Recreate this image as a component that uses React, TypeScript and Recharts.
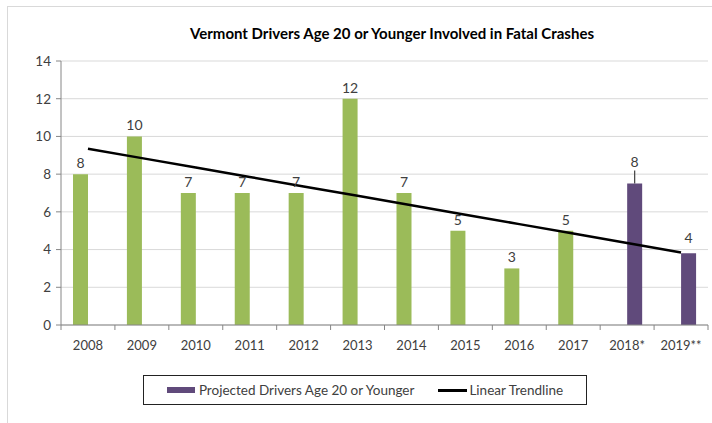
import { ComposedChart, Bar, Line, XAxis, YAxis, CartesianGrid, Legend, LabelList } from 'recharts';

const years = ['2008', '2009', '2010', '2011', '2012', '2013', '2014', '2015', '2016', '2017', '2018*', '2019**'];
const actualDrivers = [8, 10, 7, 7, 7, 12, 7, 5, 3, 5, null, null];
const projectedDrivers = [null, null, null, null, null, null, null, null, null, null, 7.5, 3.8];
const trendline = [9.35, 8.85, 8.35, 7.85, 7.35, 6.85, 6.35, 5.85, 5.35, 4.85, 4.35, 3.85];
const yTicks = [0, 2, 4, 6, 8, 10, 12, 14];

const data = years.map((year, i) => ({
  year,
  actual: actualDrivers[i],
  projected: projectedDrivers[i],
  trend: trendline[i],
}));

const FONT = 'Lato, "Liberation Sans", sans-serif';
const GREEN = '#9bbb59';
const PURPLE = '#604a7b';
const TEXT = '#404040';

// the 2018* label was dragged up in the original, with a leader line
const leaderValue = projectedDrivers[10];

const YearTick = (props: any) => {
  const { x, y, payload, index, width } = props;
  const half = (width || 647) / years.length / 2;
  return (
    <g>
      <line x1={x - half} x2={x - half} y1={y} y2={y + 5} stroke="#868686" />
      {index === years.length - 1 && <line x1={x + half} x2={x + half} y1={y} y2={y + 5} stroke="#868686" />}
      <text x={x} y={y + 25} textAnchor="middle" fill={TEXT} fontSize={13} fontFamily={FONT}>
        {payload.value}
      </text>
    </g>
  );
};

const ProjectedLabel = (props: any) => {
  const { x, y, width, value } = props;
  if (value == null) return null;
  const cx = Number(x) + Number(width) / 2;
  const top = Number(y);
  const lead = Number(value) === leaderValue;
  return (
    <g>
      {lead && <line x1={cx} x2={cx} y1={top - 13} y2={top} stroke="#404040" strokeWidth={1.2} />}
      <text x={cx} y={top - (lead ? 17 : 10)} textAnchor="middle" fill={TEXT} fontSize={14} fontFamily={FONT}>
        {Math.round(Number(value))}
      </text>
    </g>
  );
};

const LegendBox = () => (
  <div
    style={{
      border: '1px solid #222',
      height: 30,
      display: 'flex',
      alignItems: 'center',
      justifyContent: 'center',
      fontFamily: FONT,
      fontSize: 13.5,
      color: TEXT,
      boxSizing: 'border-box',
    }}
  >
    <span style={{ display: 'inline-block', width: 28, height: 6, background: PURPLE, marginRight: 4 }} />
    <span style={{ marginRight: 24 }}>Projected Drivers Age 20 or Younger</span>
    <span style={{ display: 'inline-block', width: 29, height: 3, background: '#000', marginRight: 2 }} />
    <span>Linear Trendline</span>
  </div>
);

export default function App() {
  return (
    <div style={{ position: 'absolute', left: 0, top: 0, width: 712, height: 423, background: '#fff' }}>
      <div
        style={{
          position: 'absolute',
          left: 7,
          top: 6,
          width: 705,
          height: 417,
          borderTop: '1px solid #d9d9d9',
          borderLeft: '1px solid #d9d9d9',
        }}
      />
      <div
        style={{
          position: 'absolute',
          left: 0,
          width: 784,
          top: 24,
          textAlign: 'center',
          fontFamily: FONT,
          fontWeight: 'bold',
          fontSize: 15,
          color: '#000',
        }}
      >
        Vermont Drivers Age 20 or Younger Involved in Fatal Crashes
      </div>
      <ComposedChart
        width={712}
        height={423}
        data={data}
        margin={{ top: 61, right: 4, left: 0, bottom: 38 }}
        barGap={0}
        style={{ position: 'absolute', left: 0, top: 0 }}
      >
        <CartesianGrid vertical={false} stroke="#d9d9d9" />
        <XAxis
          dataKey="year"
          axisLine={{ stroke: '#868686' }}
          tickLine={false}
          tickSize={0}
          tickMargin={0}
          interval={0}
          height={30}
          tick={<YearTick />}
        />
        <YAxis
          domain={[0, 14]}
          ticks={yTicks}
          width={61}
          axisLine={{ stroke: '#868686' }}
          tickLine={{ stroke: '#868686' }}
          tickSize={5}
          tickMargin={5}
          tick={{ fill: TEXT, fontSize: 13.5, fontFamily: FONT }}
        />
        <YAxis yAxisId="r" orientation="right" width={0} tick={false} tickLine={false} axisLine={{ stroke: '#bfbfbf' }} />
        <Legend
          content={<LegendBox />}
          wrapperStyle={{ position: 'absolute', left: 143, top: 375, width: 444, height: 30 }}
        />
        <Bar dataKey="actual" fill={GREEN} barSize={15} isAnimationActive={false} legendType="none">
          <LabelList dataKey="actual" position="top" offset={6} fill={TEXT} fontSize={14} fontFamily={FONT} />
        </Bar>
        <Bar dataKey="projected" fill={PURPLE} barSize={15} isAnimationActive={false}>
          <LabelList dataKey="projected" content={<ProjectedLabel />} />
        </Bar>
        <Line dataKey="trend" stroke="#000" strokeWidth={2.5} dot={false} isAnimationActive={false} />
      </ComposedChart>
    </div>
  );
}
